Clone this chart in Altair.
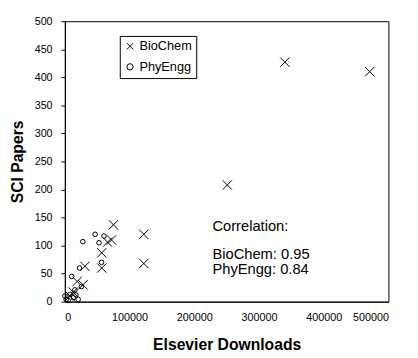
import altair as alt
import pandas as pd

# BioChem (x markers)
bio_x = [471000, 340000, 251000, 122000, 122000, 75000, 72000, 66000, 57000, 57000, 31000, 28000, 19000, 13000, 8000]
bio_y = [410, 427, 208, 120, 68, 137, 110, 106, 87, 60, 63, 30, 36, 17, 10]
# PhyEngg (circles)
phy_x = [46800, 60400, 52800, 27700, 56700, 22600, 10600, 25600, 15500, 8000, 2000, 13000, 20600, 0, 5000, 17000]
phy_y = [120, 117, 105, 107, 70, 60, 45, 27, 21, 13, 4, 7, 4, 10, 2, 12]

series = ["BioChem", "PhyEngg"]
notes = ["Correlation:", "BioChem: 0.95", "PhyEngg:  0.84"]
note_y = [135, 84, 58]
x_ticks = [0, 100000, 200000, 300000, 400000, 500000]
y_ticks = [0, 50, 100, 150, 200, 250, 300, 350, 400, 450, 500]

df = pd.concat([
    pd.DataFrame({"x": bio_x, "y": bio_y, "s": series[0]}),
    pd.DataFrame({"x": phy_x, "y": phy_y, "s": series[1]}),
])

XPATH = "M-1,-1L1,1M-1,1L1,-1"
FONT = "Liberation Sans"

x_axis = alt.Axis(title="Elsevier Downloads", values=x_ticks, labelOverlap=False,
                  format="d", ticks=False, labelPadding=10, titlePadding=15)
y_axis = alt.Axis(title="SCI Papers", values=y_ticks, labelOverlap=False,
                  tickSize=4, labelPadding=9, titlePadding=9)
x_scale = alt.Scale(domain=[0, 500000])
y_scale = alt.Scale(domain=[0, 500])

points = alt.Chart(df).mark_point(filled=False, color="black", strokeWidth=1, opacity=1).encode(
    x=alt.X("x:Q", scale=x_scale, axis=x_axis),
    y=alt.Y("y:Q", scale=y_scale, axis=y_axis),
    shape=alt.Shape("s:N", scale=alt.Scale(domain=series, range=[XPATH, "circle"]),
                    legend=alt.Legend(title=None, orient="none", legendX=56, legendY=15,
                                      strokeColor="black", fillColor="white", padding=4,
                                      rowPadding=7, labelFontSize=13, labelFont=FONT,
                                      symbolStrokeColor="black", symbolStrokeWidth=1,
                                      symbolFillColor="transparent", symbolSize=40,
                                      labelColor="black", labelOffset=3)),
    size=alt.condition(alt.datum.s == "BioChem", alt.value(90), alt.value(22)),
)

ndf = pd.DataFrame({"t": notes, "y": note_y})
text = alt.Chart(ndf).mark_text(align="left", baseline="middle", font=FONT, fontSize=15, color="black").encode(
    x=alt.datum(228000, scale=x_scale, axis=x_axis),
    y=alt.Y("y:Q", scale=y_scale, axis=y_axis),
    text="t:N",
)

chart = alt.layer(points, text).properties(
    width=330, height=286,
    autosize=alt.AutoSizeParams(type="none"),
    padding={"left": 58, "top": 10, "right": 22, "bottom": 54},
).configure_view(stroke="black", strokeWidth=1).configure_axis(
    grid=False, domainColor="black", tickColor="black", labelColor="black",
    labelFont=FONT, labelFontSize=11, titleFont=FONT, titleFontSize=16,
    titleFontWeight="bold", titleColor="black",
)

chart.save("out.html", embed_options={"renderer": "svg", "actions": False})
